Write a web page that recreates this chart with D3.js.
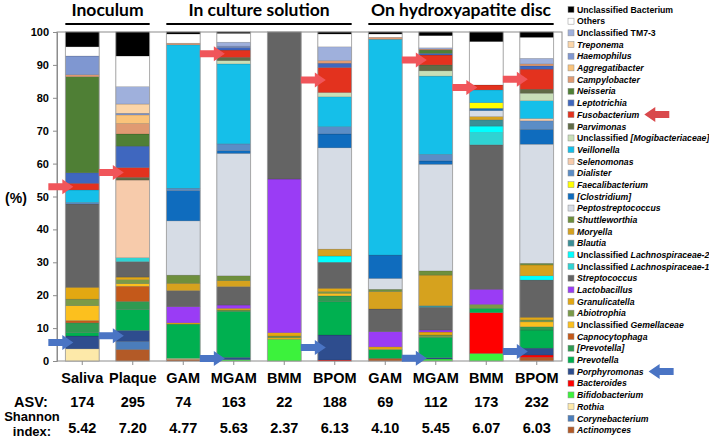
<!DOCTYPE html>
<html>
<head>
<meta charset="utf-8">
<script src="https://cdn.jsdelivr.net/npm/d3@7"></script>
<style>
  body { margin: 0; background: #fff; }
  text { font-family: "Liberation Sans", Arial, sans-serif; font-weight: bold; }
</style>
</head>
<body>
<div id="chart"></div>
<script>
// legend order, top to bottom (stack order is the reverse)
var taxa = ["Unclassified Bacterium","Others","Unclassified TM7-3","Treponema","Haemophilus","Aggregatibacter",
  "Campylobacter","Neisseria","Leptotrichia","Fusobacterium","Parvimonas","Unclassified [Mogibacteriaceae]",
  "Veillonella","Selenomonas","Dialister","Faecalibacterium","[Clostridium]","Peptostreptococcus","Shuttleworthia",
  "Moryella","Blautia","Unclassified Lachnospiraceae-2","Unclassified Lachnospiraceae-1","Streptococcus",
  "Lactobacillus","Granulicatella","Abiotrophia","Unclassified Gemellaceae","Capnocytophaga","[Prevotella]",
  "Prevotella","Porphyromonas","Bacteroides","Bifidobacterium","Rothia","Corynebacterium","Actinomyces"];

var taxaColors = ["#000000","#ffffff","#9fb0dc","#fbd5a8","#7f97d1","#fac37a",
  "#e09a72","#4f7f35","#3f67bf","#e3321e","#606b46","#c8dfb8",
  "#15bfe9","#f7cbab","#5b8dc6","#ffff00","#0f6cbe","#d6dce5","#6e8f3d",
  "#d6a21e","#3a8f96","#00ffff","#2fd3d3","#646464",
  "#9a3cf5","#e3a812","#7a9a48","#fcc01e","#c4591a","#2f9a52",
  "#00b050","#2e4d8e","#ff0000","#3cf23c","#fde9a9","#4b7dbb","#b35a27"];

var samples = ["Saliva","Plaque","GAM","MGAM","BMM","BPOM","GAM","MGAM","BMM","BPOM"];
var asv = [174, 295, 74, 163, 22, 188, 69, 112, 173, 232];
var shannon = ["5.42","7.20","4.77","5.63","2.37","6.13","4.10","5.45","6.07","6.03"];

var groupNames = ["Inoculum", "In culture solution", "On hydroxyapatite disc"];
var groupFirst = [0, 2, 6];
var groupLast = [1, 5, 9];

var yTicks = [0,10,20,30,40,50,60,70,80,90,100];

// relative abundance (%) per sample
var saliva = {"Unclassified Bacterium":4.5, "Others":2.8, "Haemophilus":5.7, "Campylobacter":0.6, "Neisseria":29.2,
  "Leptotrichia":3.2, "Fusobacterium":2.0, "Veillonella":3.8, "Dialister":0.5, "Streptococcus":25.3,
  "Granulicatella":3.6, "Abiotrophia":2.0, "Unclassified Gemellaceae":4.5, "Capnocytophaga":0.7,
  "[Prevotella]":3.0, "Prevotella":1.0, "Porphyromonas":3.9, "Rothia":3.7};
var plaque = {"Unclassified Bacterium":7.3, "Others":9.3, "Unclassified TM7-3":5.3, "Treponema":2.8, "Haemophilus":0.5,
  "Aggregatibacter":2.6, "Campylobacter":3.2, "Neisseria":3.7, "Leptotrichia":6.5, "Fusobacterium":3.0,
  "Parvimonas":0.8, "Selenomonas":23.6, "Unclassified Lachnospiraceae-1":1.2, "Streptococcus":4.7,
  "Granulicatella":0.8, "Abiotrophia":1.2, "Unclassified Gemellaceae":0.8, "Capnocytophaga":4.6,
  "[Prevotella]":2.5, "Prevotella":6.3, "Porphyromonas":3.3, "Corynebacterium":2.5, "Actinomyces":3.5};
var gamC = {"Unclassified Bacterium":0.6, "Others":2.8, "Campylobacter":0.5, "Veillonella":43.6, "Dialister":0.7,
  "[Clostridium]":9.2, "Peptostreptococcus":16.5, "Shuttleworthia":2.5, "Moryella":2.2, "Streptococcus":4.9,
  "Lactobacillus":4.9, "Granulicatella":0.4, "Prevotella":10.4, "Rothia":0.3, "Actinomyces":0.5};
var mgamC = {"Unclassified Bacterium":0.4, "Others":2.7, "Unclassified TM7-3":1.2, "Haemophilus":0.4, "Leptotrichia":0.8,
  "Fusobacterium":2.2, "Parvimonas":1.0, "Unclassified [Mogibacteriaceae]":1.0, "Veillonella":24.3, "Dialister":2.1,
  "[Clostridium]":0.8, "Peptostreptococcus":37.2, "Shuttleworthia":1.5, "Moryella":1.8, "Streptococcus":5.6,
  "Lactobacillus":1.0, "Granulicatella":0.5, "Abiotrophia":0.4, "Prevotella":14.0, "Porphyromonas":0.7,
  "Bifidobacterium":0.4};
var bmmC = {"Streptococcus":44.7, "Lactobacillus":46.7, "Granulicatella":1.0, "Abiotrophia":0.6,
  "Unclassified Gemellaceae":0.4, "Bifidobacterium":6.6};
var bpomC = {"Unclassified Bacterium":0.6, "Others":3.9, "Unclassified TM7-3":4.2, "Campylobacter":0.8, "Leptotrichia":1.3,
  "Fusobacterium":7.6, "Unclassified [Mogibacteriaceae]":1.3, "Veillonella":9.1, "Dialister":2.2, "[Clostridium]":4.2,
  "Peptostreptococcus":30.8, "Moryella":2.1, "Unclassified Lachnospiraceae-2":1.9, "Streptococcus":7.9,
  "Granulicatella":1.0, "Abiotrophia":0.5, "Unclassified Gemellaceae":0.8, "[Prevotella]":1.8, "Prevotella":10.1,
  "Porphyromonas":7.6, "Bacteroides":0.3};
var gamH = {"Unclassified Bacterium":0.6, "Others":1.0, "Campylobacter":0.6, "Veillonella":65.6, "[Clostridium]":7.1,
  "Peptostreptococcus":3.3, "Shuttleworthia":0.7, "Moryella":5.3, "Streptococcus":6.9, "Lactobacillus":4.6,
  "Granulicatella":0.8, "Prevotella":2.7, "Actinomyces":0.8};
var mgamH = {"Unclassified Bacterium":1.1, "Others":3.7, "Unclassified TM7-3":0.4, "Campylobacter":0.3, "Neisseria":1.0,
  "Leptotrichia":0.5, "Fusobacterium":3.0, "Parvimonas":1.8, "Unclassified [Mogibacteriaceae]":1.6, "Veillonella":23.8,
  "Dialister":2.0, "[Clostridium]":1.0, "Peptostreptococcus":32.4, "Shuttleworthia":1.3, "Moryella":9.3, "Blautia":0.5,
  "Streptococcus":6.9, "Lactobacillus":0.6, "Granulicatella":0.9, "Abiotrophia":0.7, "Prevotella":6.2,
  "Porphyromonas":0.4, "Bifidobacterium":0.6};
var bmmH = {"Unclassified Bacterium":2.9, "Others":13.2, "Fusobacterium":1.5, "Veillonella":3.9, "Faecalibacterium":1.7,
  "[Clostridium]":0.7, "Peptostreptococcus":1.8, "Moryella":1.0, "Blautia":1.9, "Unclassified Lachnospiraceae-2":2.0,
  "Unclassified Lachnospiraceae-1":3.7, "Streptococcus":43.9, "Lactobacillus":4.6, "Abiotrophia":1.2,
  "Prevotella":1.3, "Bacteroides":12.4, "Bifidobacterium":2.3};
var bpomH = {"Unclassified Bacterium":1.6, "Others":6.4, "Unclassified TM7-3":1.7, "Campylobacter":0.6, "Leptotrichia":1.0,
  "Fusobacterium":6.1, "Parvimonas":1.2, "Unclassified [Mogibacteriaceae]":2.3, "Veillonella":5.4, "Selenomonas":0.7,
  "Dialister":2.6, "[Clostridium]":4.5, "Peptostreptococcus":36.2, "Shuttleworthia":0.5, "Moryella":3.3,
  "Unclassified Lachnospiraceae-2":1.3, "Streptococcus":11.3, "Granulicatella":0.8, "Abiotrophia":0.6,
  "Unclassified Gemellaceae":1.5, "[Prevotella]":1.0, "Prevotella":5.5, "Porphyromonas":2.1, "Bacteroides":0.7,
  "Actinomyces":1.1};

var sampleData = [saliva, plaque, gamC, mgamC, bmmC, bpomC, gamH, mgamH, bmmH, bpomH];

// bars that carry the highlight arrows
var fusoArrowBars = [0, 1, 3, 5, 7, 8, 9];
var porphArrowBars = [0, 1, 3, 5, 7, 9];

var W = 709, H = 440;
var svg = d3.select("#chart").append("svg").attr("width", W).attr("height", H);

var x = d3.scaleBand()
  .domain(d3.range(samples.length))
  .range([57, 562])
  .paddingInner(0.33)
  .paddingOuter(0.165);

var y = d3.scaleLinear().domain([0, 100]).range([361, 32]);

var color = d3.scaleOrdinal().domain(taxa).range(taxaColors);

var rows = sampleData.map(function(d, i) {
  var r = {idx: i};
  taxa.forEach(function(t) { r[t] = d[t] || 0; });
  return r;
});

var stack = d3.stack().keys(taxa.slice().reverse());
var series = stack(rows);

// plot frame
svg.append("rect")
  .attr("x", 57).attr("y", 32).attr("width", 505).attr("height", 329)
  .attr("fill", "none").attr("stroke", "#8c8c8c").attr("stroke-width", 1);

// bars
var layer = svg.append("g").selectAll("g")
  .data(series)
  .enter().append("g")
  .attr("fill", function(d) { return color(d.key); });

layer.selectAll("rect")
  .data(function(d) { return d.filter(function(s) { return s[1] - s[0] > 0; }); })
  .enter().append("rect")
  .attr("x", function(d) { return x(d.data.idx); })
  .attr("y", function(d) { return y(d[1]); })
  .attr("width", x.bandwidth())
  .attr("height", function(d) { return y(d[0]) - y(d[1]); })
  .attr("stroke", "rgba(0,0,0,0.25)")
  .attr("stroke-width", 0.5);

// bar outline
svg.append("g").selectAll("rect")
  .data(d3.range(samples.length))
  .enter().append("rect")
  .attr("x", function(i) { return x(i); })
  .attr("y", y(100))
  .attr("width", x.bandwidth())
  .attr("height", y(0) - y(100))
  .attr("fill", "none")
  .attr("stroke", "#a0a0a0")
  .attr("stroke-width", 0.8);

// y axis
var yAxis = svg.append("g")
  .attr("transform", "translate(57,0)")
  .call(d3.axisLeft(y).tickValues(yTicks).tickSize(4).tickPadding(4));
yAxis.select(".domain").attr("stroke", "#8c8c8c");
yAxis.selectAll(".tick line").attr("stroke", "#8c8c8c");
yAxis.selectAll("text").style("font-size", "11px").style("font-weight", "bold")
  .style("font-family", "Liberation Sans, Arial, sans-serif").attr("fill", "#000");

// x axis ticks + labels
var xAxis = svg.append("g")
  .attr("transform", "translate(0,361)")
  .call(d3.axisBottom(x).tickSize(4).tickPadding(8).tickFormat(function(i) { return samples[i]; }));
xAxis.select(".domain").remove();
xAxis.selectAll(".tick line").attr("stroke", "#8c8c8c");
xAxis.selectAll("text").style("font-size", "14.5px").style("font-weight", "bold")
  .style("font-family", "Liberation Sans, Arial, sans-serif").attr("fill", "#000");

svg.append("text").attr("x", 16).attr("y", 203).attr("text-anchor", "middle")
  .style("font-size", "14px").text("(%)");

// ASV and Shannon rows
svg.append("text").attr("x", 31).attr("y", 407).attr("text-anchor", "middle")
  .style("font-size", "14.5px").text("ASV:");
svg.append("text").attr("x", 32).attr("y", 421).attr("text-anchor", "middle")
  .style("font-size", "13px").text("Shannon");
svg.append("text").attr("x", 32).attr("y", 436).attr("text-anchor", "middle")
  .style("font-size", "13px").text("index:");

svg.append("g").selectAll("text")
  .data(asv).enter().append("text")
  .attr("x", function(d, i) { return x(i) + x.bandwidth() / 2; })
  .attr("y", 407).attr("text-anchor", "middle")
  .style("font-size", "14.5px").text(function(d) { return d; });

svg.append("g").selectAll("text")
  .data(shannon).enter().append("text")
  .attr("x", function(d, i) { return x(i) + x.bandwidth() / 2; })
  .attr("y", 433).attr("text-anchor", "middle")
  .style("font-size", "14.5px").text(function(d) { return d; });

// group headers
groupNames.forEach(function(g, k) {
  var x0 = x(groupFirst[k]), x1 = x(groupLast[k]) + x.bandwidth();
  svg.append("line").attr("x1", x0).attr("x2", x1).attr("y1", 24).attr("y2", 24)
    .attr("stroke", "#000").attr("stroke-width", 2);
  svg.append("text").attr("x", (x0 + x1) / 2).attr("y", 16).attr("text-anchor", "middle")
    .style("font-family", "Lato, 'Open Sans', sans-serif").style("font-size", "17.5px")
    .text(g);
});

// block arrows
function arrowPath(dir) {
  // tip at (0,0); dir = 1 points right, -1 points left
  var L = 25, Hd = 11, s = 3.5, h = 7.5;
  var pts = [[0,0],[-Hd,-h],[-Hd,-s],[-L,-s],[-L,s],[-Hd,s],[-Hd,h]];
  return "M" + pts.map(function(p) { return (p[0] * dir) + "," + p[1]; }).join("L") + "Z";
}

function midOf(i, key) {
  var s = series.find(function(d) { return d.key === key; })[i];
  return y((s[0] + s[1]) / 2);
}

svg.append("g").selectAll("path")
  .data(fusoArrowBars).enter().append("path")
  .attr("d", arrowPath(1))
  .attr("transform", function(i) { return "translate(" + (x(i) + 8) + "," + midOf(i, "Fusobacterium") + ")"; })
  .attr("fill", "#f0555a");

svg.append("g").selectAll("path")
  .data(porphArrowBars).enter().append("path")
  .attr("d", arrowPath(1))
  .attr("transform", function(i) { return "translate(" + (x(i) + 8) + "," + midOf(i, "Porphyromonas") + ")"; })
  .attr("fill", "#4a74c4");

// legend
var plain = {"Unclassified Bacterium": 1, "Others": 1, "Unclassified TM7-3": 1};
var legend = svg.append("g").attr("transform", "translate(568,0)");
var item = legend.selectAll("g")
  .data(taxa).enter().append("g")
  .attr("transform", function(d, i) { return "translate(0," + (9.5 + i * 11.68) + ")"; });

item.append("rect")
  .attr("x", 0).attr("y", -3).attr("width", 6).attr("height", 6)
  .attr("fill", function(d) { return color(d); })
  .attr("stroke", "#909090").attr("stroke-width", 0.5);

item.append("text")
  .attr("x", 9).attr("y", 3.2)
  .style("font-size", "8.7px")
  .each(function(d) {
    var t = d3.select(this);
    if (plain[d]) { t.text(d); return; }
    if (d.indexOf("Unclassified ") === 0) {
      t.append("tspan").text("Unclassified ");
      t.append("tspan").style("font-style", "italic").text(d.slice(13));
    } else {
      t.append("tspan").style("font-style", "italic").text(d);
    }
  });

// legend highlight arrows
[["Fusobacterium", "#d9494c"], ["Porphyromonas", "#4a74c4"]].forEach(function(a) {
  var i = taxa.indexOf(a[0]);
  var node = item.filter(function(d) { return d === a[0]; }).select("text").node();
  var end = 568 + 9 + node.getComputedTextLength();
  svg.append("path").attr("d", arrowPath(-1))
    .attr("transform", "translate(" + (end + 5) + "," + (9.5 + i * 11.68) + ")")
    .attr("fill", a[1]);
});
</script>
</body>
</html>
